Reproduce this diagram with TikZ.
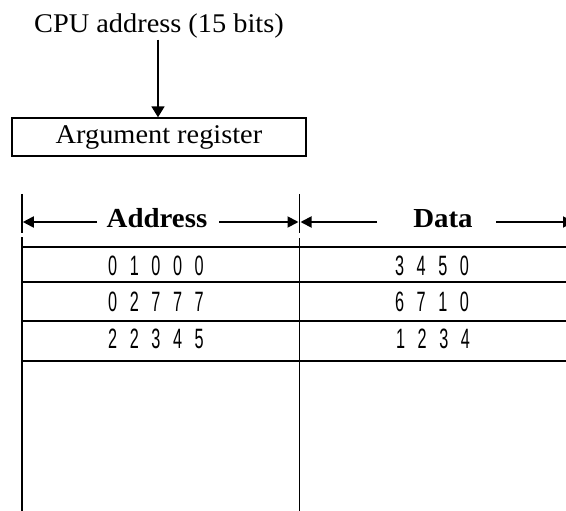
\documentclass[tikz,border=0pt]{standalone}
\usepackage{fontspec}
\setmainfont[FakeStretch=1.05]{Liberation Serif}
\newfontfamily\digitfont[FakeStretch=0.58]{Liberation Sans}
\newcommand\digitstyle{\digitfont\fontsize{28}{30}\selectfont\spaceskip 12.6pt\relax}
\usetikzlibrary{arrows.meta}
\begin{document}
\begin{tikzpicture}[x=1pt,y=-1pt, line width=1.8pt,
  lbl/.style={font=\fontsize{27}{30}\selectfont, anchor=base, inner sep=0pt},
  hdr/.style={font=\fontsize{27.5}{30}\selectfont\bfseries, anchor=base, inner sep=0pt},
  num/.style={font=\digitstyle, anchor=base, inner sep=0pt},
  regbox/.style={draw, line width=1.4pt, minimum width=294pt, minimum height=38pt, inner sep=0pt, font=\fontsize{27}{30}\selectfont},
  arr/.style={-{Triangle[length=11pt,width=13pt]}},
  harr/.style={-{Triangle[length=11pt,width=11pt]}}]
\useasboundingbox (0,0) rectangle (566,511);
\clip (0,0) rectangle (566,511);

% top part
\node[lbl] (cpu) at (159,33) {CPU address (15 bits)};
\node[regbox] (reg) at (159,137) {Argument register};
\draw[arr] (cpu.south -| 158,0) -- (reg.north -| 158,0);

% header
\coordinate (tl1) at (22,194);   \coordinate (tl2) at (22,233);
\coordinate (tm1) at (299.5,194); \coordinate (tm2) at (299.5,233);
\draw (tl1) -- (tl2);
\draw (tm1) -- (tm2);
\node[hdr] (addr) at (157,227) {Address};
\node[hdr] (data) at (443,227) {Data};
\coordinate (a1) at (97,222);  \coordinate (a1t) at (22.8,222);
\coordinate (a2) at (219,222); \coordinate (a2t) at (298.5,222);
\coordinate (d1) at (377,222); \coordinate (d1t) at (300.5,222);
\coordinate (d2) at (496,222); \coordinate (d2t) at (574,222);
\draw[harr] (a1) -- (a1t);
\draw[harr] (a2) -- (a2t);
\draw[harr] (d1) -- (d1t);
\draw[harr] (d2) -- (d2t);

% table
\coordinate (vl1) at (22,237);    \coordinate (vl2) at (22,511);
\coordinate (vm1) at (299.5,238); \coordinate (vm2) at (299.5,511);
\draw (vl1) -- (vl2);
\draw (vm1) -- (vm2);
\foreach \yy in {246.7,282.3,320.7,360.7}
  \draw (22,\yy) -- (570,\yy);

\node[num] (r1a) at (156,275)   {0 1 0 0 0};
\node[num] (r2a) at (156,311.7) {0 2 7 7 7};
\node[num] (r3a) at (156,348)   {2 2 3 4 5};
\node[num] (r1d) at (432,275)   {3 4 5 0};
\node[num] (r2d) at (432,311.7) {6 7 1 0};
\node[num] (r3d) at (433,348)   {1 2 3 4};
\end{tikzpicture}
\end{document}
